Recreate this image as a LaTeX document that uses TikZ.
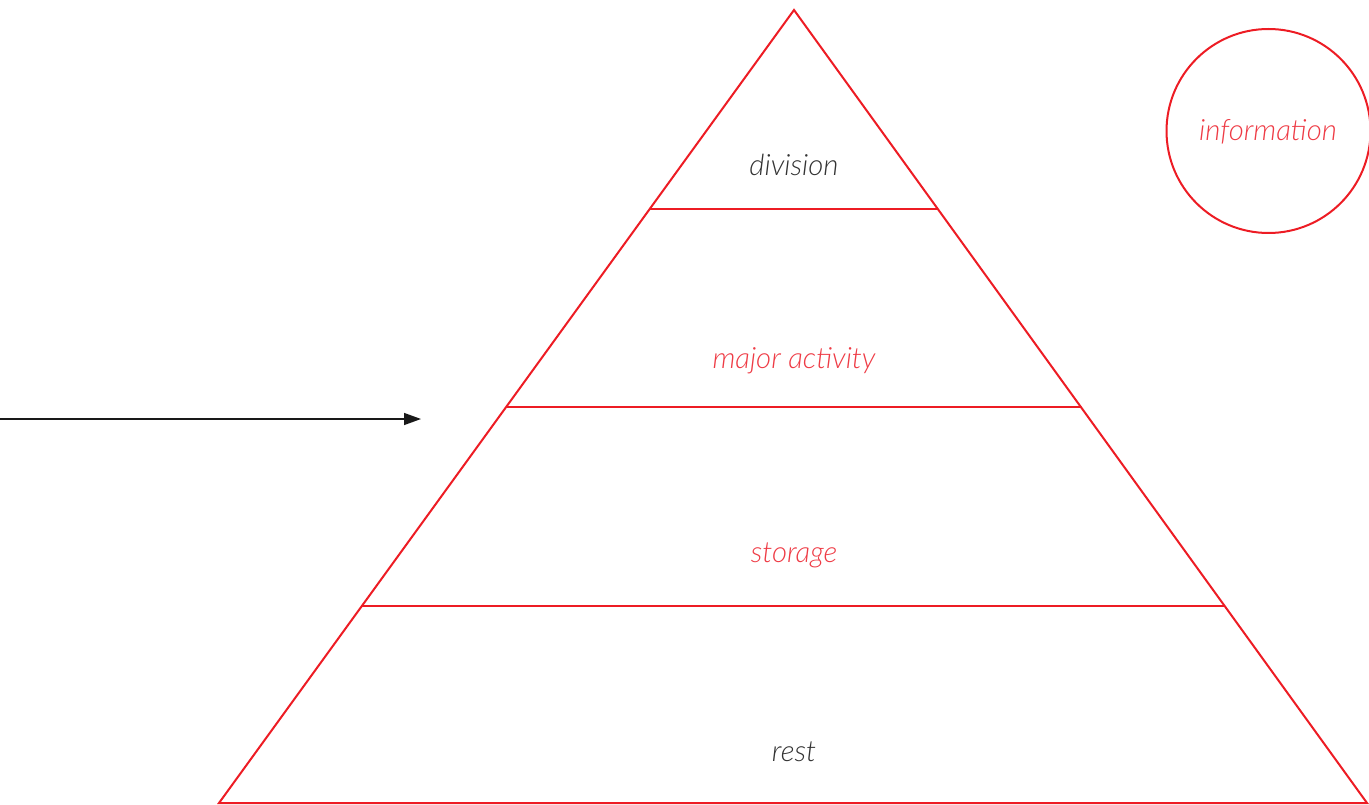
\documentclass[tikz,border=0pt]{standalone}
\usepackage{fontspec}
\setmainfont{Lato}[UprightFont={* Light}, ItalicFont={* Light Italic}]
\usetikzlibrary{calc,arrows.meta}
\definecolor{pyrred}{HTML}{ED1C24}
\definecolor{txtred}{HTML}{EE3B45}
\definecolor{txtgray}{HTML}{333333}
\tikzset{
  redline/.style={draw=pyrred, line width=1.5pt},
  lbl/.style={font=\itshape\fontsize{22}{25}\selectfont, inner sep=0pt, anchor=center},
}
\begin{document}
\begin{tikzpicture}[x=0.75pt,y=-0.75pt]
\useasboundingbox (0,0) rectangle (1369,805);
\coordinate (apex) at (794,10);
\coordinate (bl) at (219,803);
\coordinate (br) at (1367,803);
\draw[redline, line join=miter] (apex) -- (br) -- (bl) -- cycle;
\coordinate (l1) at ($(apex)!0.2509!(bl)$);
\coordinate (r1) at ($(apex)!0.2509!(br)$);
\coordinate (l2) at ($(apex)!0.5006!(bl)$);
\coordinate (r2) at ($(apex)!0.5006!(br)$);
\coordinate (l3) at ($(apex)!0.7516!(bl)$);
\coordinate (r3) at ($(apex)!0.7516!(br)$);
\draw[redline] (l1) -- (r1);
\draw[redline] (l2) -- (r2);
\draw[redline] (l3) -- (r3);
\node[lbl, text=txtgray] (division) at (794,165) {division};
\node[lbl, text=txtred] (major) at (794,361) {major activity};
\node[lbl, text=txtred] (storage) at (794,555) {storage};
\node[lbl, text=txtgray] (rest) at (794,752) {rest};
\node[circle, draw=pyrred, line width=1.5pt, minimum size=153pt, inner sep=0pt] (info) at (1268.5,131) {};
\node[lbl, text=txtred] (infotext) at (1268,132) {information};
\coordinate (arrs) at (0,419);
\coordinate (arre) at (421,419);
\draw[line width=1.1pt, color=black!90, -{Triangle[length=12.75pt,width=9pt]}] (arrs) -- (arre);
\end{tikzpicture}
\end{document}
